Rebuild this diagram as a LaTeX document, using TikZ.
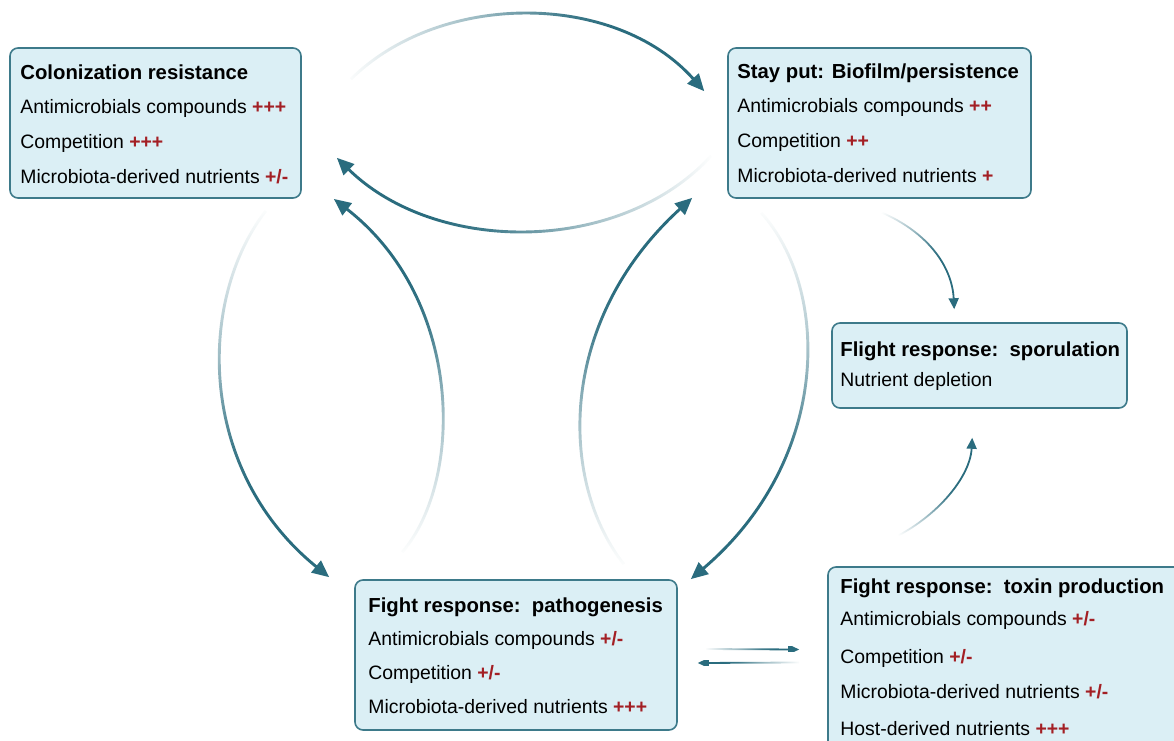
\documentclass[tikz,border=0pt]{standalone}
\usepackage{fontspec}
\setmainfont{Liberation Sans}
\usetikzlibrary{arrows.meta,fadings}
\definecolor{boxfill}{HTML}{DBEFF5}
\definecolor{boxline}{HTML}{3D7A8A}
\definecolor{arrowc}{HTML}{2A6C7E}
\definecolor{plusred}{HTML}{A31F24}
\pgfdeclarehorizontalshading{myfadeshade}{100bp}{rgb(0bp)=(0,0,0); rgb(25bp)=(0,0,0); rgb(42bp)=(0.45,0.45,0.45); rgb(55bp)=(0.9,0.9,0.9); rgb(62bp)=(1,1,1); rgb(100bp)=(1,1,1)}
\pgfdeclarefading{fadein}{\pgfuseshading{myfadeshade}}
\tikzset{
  statebox/.style={draw=boxline, fill=boxfill, line width=0.8pt, rounded corners=4pt, inner sep=0pt},
  ttl/.style={anchor=base west, inner sep=0pt, font=\fontsize{10.15pt}{12pt}\selectfont\bfseries},
  itm/.style={anchor=base west, inner sep=0pt, font=\fontsize{9.7pt}{12pt}\selectfont},
  bigarrow/.style={draw=arrowc, line width=1.45pt, -{Triangle[length=8.5pt,width=7.5pt]}, path fading=fadein},
  smallarrow/.style={draw=arrowc, line width=0.9pt, -{Triangle[length=5.5pt,width=5pt]}, path fading=fadein},
}
\newcommand{\rd}[1]{\textcolor{plusred}{\textbf{#1}}}
\begin{document}
\begin{tikzpicture}[x=0.5pt,y=-0.5pt]
\useasboundingbox (0,0) rectangle (1174,740);
\clip (0,0) rectangle (1174,740);
% boxes
\node[statebox, minimum width=145.5pt, minimum height=75pt] (cr) at (155.5,123) {};
\node[statebox, minimum width=151.5pt, minimum height=75pt] (sp) at (879.5,123) {};
\node[statebox, minimum width=147.5pt, minimum height=42.5pt] (fl) at (979.5,365.5) {};
\node[statebox, minimum width=161pt, minimum height=75pt] (pg) at (516,655) {};
\node[statebox, minimum width=181pt, minimum height=96.5pt] (tx) at (1009,663.5) {};
% texts box 1
\node[ttl] (cr0) at (20,79) {Colonization resistance};
\node[itm] (cr1) at (20,113) {Antimicrobials compounds \rd{+++}};
\node[itm] (cr2) at (20,148) {Competition \rd{+++}};
\node[itm] (cr3) at (20,183) {Microbiota-derived nutrients \rd{+/-}};
% box 2
\node[ttl] (sp0) at (737,78) {Stay put: Biofilm/persistence};
\node[itm] (sp1) at (737,112) {Antimicrobials compounds \rd{++}};
\node[itm] (sp2) at (737,147) {Competition \rd{++}};
\node[itm] (sp3) at (737,182) {Microbiota-derived nutrients \rd{+}};
% box 3
\node[ttl] (fl0) at (840,356) {Flight response:\ \ sporulation};
\node[itm] (fl1) at (840,386) {Nutrient depletion};
% box 4
\node[ttl] (pg0) at (368,612) {Fight response:\ \ pathogenesis};
\node[itm] (pg1) at (368,645) {Antimicrobials compounds \rd{+/-}};
\node[itm] (pg2) at (368,679) {Competition \rd{+/-}};
\node[itm] (pg3) at (368,713) {Microbiota-derived nutrients \rd{+++}};
% box 5
\node[ttl] (tx0) at (840,593) {Fight response:\ \ toxin production};
\node[itm] (tx1) at (840,625) {Antimicrobials compounds \rd{+/-}};
\node[itm] (tx2) at (840,663) {Competition \rd{+/-}};
\node[itm] (tx3) at (840,698) {Microbiota-derived nutrients \rd{+/-}};
\node[itm] (tx4) at (840,735) {Host-derived nutrients \rd{+++}};
% arrows
\draw[bigarrow, fading angle=-2] ([shift={(49,32)}]cr.north east) .. controls (440,-9) and (615,-9) .. ([shift={(-23,44)}]sp.north west);
\draw[bigarrow, fading angle=180] ([shift={(-16,-43)}]sp.south west) .. controls (620,255) and (436,255) .. ([shift={(35,-41)}]cr.south east);
\draw[bigarrow, fading angle=-80] ([shift={(-36,12)}]cr.south east) .. controls (197,300) and (197,470) .. ([shift={(-25,-2)}]pg.north west);
\draw[bigarrow, fading angle=101] ([shift={(48,-27)}]pg.north west) .. controls (464,480) and (464,300) .. ([shift={(32,0)}]cr.south east);
\draw[bigarrow, fading angle=79] ([shift={(-54,-15)}]pg.north east) .. controls (558,480) and (558,320) .. ([shift={(-35,-1)}]sp.south west);
\draw[bigarrow, fading angle=-101] ([shift={(34,14)}]sp.south west) .. controls (831,290) and (831,460) .. ([shift={(13,0)}]pg.north east);
\draw[smallarrow, fading angle=-49] ([shift={(134,6)}]sp.south west) .. controls (925,225) and (952,265) .. ([shift={(123,-13)}]fl.north west);
\draw[smallarrow, fading angle=49] ([shift={(52,-22)}]tx.north west) .. controls (930,525) and (970,480) .. ([shift={(141,29)}]fl.south west);
\draw[smallarrow, fading angle=0] ([shift={(28,-6)}]pg.east) -- ([shift={(-28,-14)}]tx.west);
\draw[smallarrow, fading angle=180] ([shift={(-28,-1)}]tx.west) -- ([shift={(20,8)}]pg.east);
\end{tikzpicture}
\end{document}
